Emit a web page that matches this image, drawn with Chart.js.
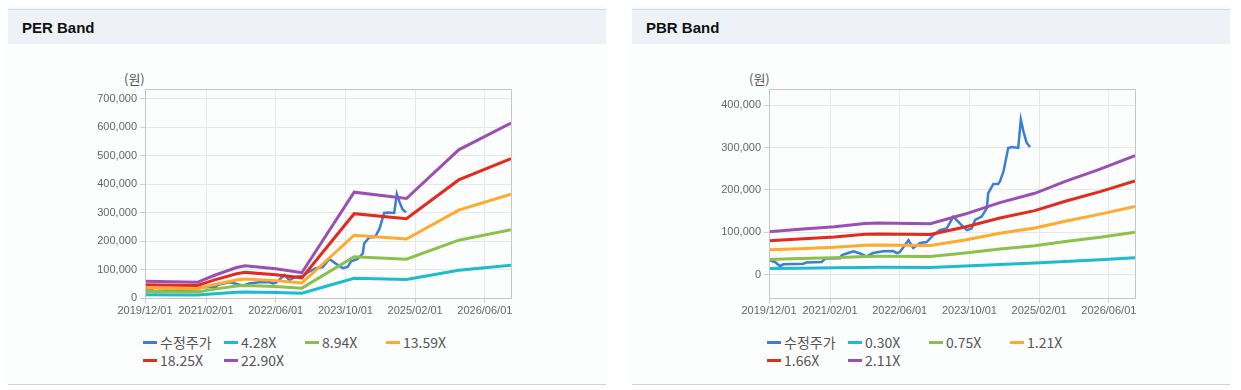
<!DOCTYPE html>
<html>
<head>
<meta charset="utf-8">
<script src="https://cdn.jsdelivr.net/npm/chart.js@4"></script>
<style>
  body { margin: 0; background: #fff; width: 1241px; height: 390px; position: relative; overflow: hidden;
         font-family: 'Liberation Sans', Arial, sans-serif; }
  .panel { position: absolute; top: 9px; width: 598px; height: 374px; background: #fcfdfd;
           border-top: 1px solid #d6d9dd; border-bottom: 1px solid #cfd2d6; box-shadow: 0 -2px 3px rgba(0,0,0,0.04); }
  .head { height: 34px; background: #eef2f7; }
  .head b { position: absolute; left: 14px; top: 9px; font: bold 15px 'Liberation Sans', Arial, sans-serif; color: #111; }
  canvas { position: absolute; }
  .unit { position: absolute; top: 69px; font: 13px 'Noto Sans CJK KR', sans-serif; color: #555; }
  .legend { position: absolute; top: 333px; display: grid; grid-template-columns: repeat(4, 81px); grid-auto-rows: 18px; }
  .li { display: flex; align-items: center; font: 14px 'Liberation Sans Narrow', 'Noto Sans CJK KR', sans-serif; color: #555; white-space: nowrap; }
  .li i { display: inline-block; width: 14px; height: 3px; margin-right: 3px; }
</style>
</head>
<body>
<div class="panel" style="left:8px"><div class="head"><b>PER Band</b></div></div>
<div class="panel" style="left:632px"><div class="head"><b>PBR Band</b></div></div>
<div class="unit" style="left:124px">(원)</div>
<div class="unit" style="left:749px">(원)</div>
<canvas id="perChart" width="470" height="270" style="left:60px; top:60px"></canvas>
<canvas id="pbrChart" width="460" height="270" style="left:700px; top:60px"></canvas>
<div class="legend" id="perLegend" style="left:143px"></div>
<div class="legend" id="pbrLegend" style="left:767px"></div>
<script>
const xTickLabels = ['2019/12/01', '2021/02/01', '2022/06/01', '2023/10/01', '2025/02/01', '2026/06/01'];
const xStart = '2019/12/01';
const xEnd = '2026/12/01';

// 수정주가 (shared by both charts)
const priceDates = ['2019/12/01', '2020/01/13', '2020/02/16', '2020/03/10', '2020/07/28', '2020/08/19', '2020/12/04',
  '2020/12/28', '2021/04/10', '2021/04/22', '2021/05/25', '2021/07/13', '2021/08/28', '2021/10/13', '2021/11/28',
  '2022/02/07', '2022/04/16', '2022/05/10', '2022/06/01', '2022/08/01', '2022/09/04', '2022/10/22', '2022/12/07',
  '2023/01/22', '2023/03/07', '2023/04/25', '2023/06/10', '2023/07/25', '2023/09/13', '2023/10/16', '2023/11/10',
  '2023/12/25', '2024/02/01', '2024/02/10', '2024/03/16', '2024/04/19', '2024/05/01', '2024/05/25', '2024/06/28',
  '2024/07/22', '2024/09/07', '2024/09/25', '2024/10/13', '2024/11/04', '2024/11/28'];
const priceValues = [34000, 30000, 20000, 24500, 26000, 29000, 30000, 38000, 39000, 46000, 50000, 55000, 50000, 43000,
  51000, 55000, 56000, 51000, 53000, 81000, 63000, 75000, 77000, 93000, 105000, 109000, 137000, 121000, 105000,
  109000, 129000, 137000, 157000, 192000, 214000, 214000, 220000, 243000, 299000, 301000, 299000, 366000, 338000,
  312000, 301000];

// PER band
const perDates = ['2019/12/01', '2020/12/01', '2021/04/01', '2021/09/01', '2021/11/01', '2022/06/01', '2022/12/01',
  '2023/12/01', '2024/12/01', '2025/12/01', '2026/12/01'];
const per428 = [11000, 10300, 15000, 20000, 21100, 19300, 16600, 69500, 65400, 97400, 114900];
const per894 = [23000, 21500, 31200, 41800, 44100, 40200, 34700, 145200, 136600, 203400, 240100];
const per1359 = [35000, 32600, 47500, 63500, 67100, 61100, 52800, 220800, 207700, 309200, 365000];
const per1825 = [47000, 43800, 63800, 85300, 90100, 82100, 70900, 296500, 278900, 415200, 490100];
const per2290 = [59000, 55000, 80000, 107000, 113000, 103000, 89000, 372000, 350000, 521000, 615000];
const perYTicks = [0, 100000, 200000, 300000, 400000, 500000, 600000, 700000];

// PBR band
const pbrDates = ['2019/12/01', '2020/07/01', '2021/03/01', '2021/10/01', '2022/01/01', '2023/01/01', '2023/09/01',
  '2024/05/01', '2025/01/01', '2025/08/01', '2026/04/01', '2026/12/01'];
const pbr030 = [14400, 15200, 16100, 17200, 17300, 17100, 20300, 24200, 27300, 31300, 35400, 40000];
const pbr075 = [35900, 38000, 40200, 43000, 43400, 42800, 50900, 60500, 68300, 78200, 88500, 99900];
const pbr121 = [59000, 61300, 64900, 69300, 69900, 69000, 82000, 97500, 110100, 126200, 142800, 161200];
const pbr166 = [80000, 84200, 89000, 95100, 96000, 94600, 112500, 133800, 151000, 173100, 195900, 221100];
const pbr211 = [101000, 107000, 113000, 121000, 122000, 120000, 143000, 170000, 192000, 220000, 249000, 281000];
const pbrYTicks = [0, 100000, 200000, 300000, 400000];

const colors = ['#3a7ed6', '#1dbbcf', '#8cc04c', '#ffaa2c', '#e42a1f', '#9c4fb3'];

function monthIdx(s) {
  const [y, m, d] = s.split('/').map(Number);
  return (y - 2019) * 12 + (m - 12) + (d - 1) / 30;
}

function series(label, dates, values, color, i) {
  return {
    label,
    data: dates.map((d, k) => ({ x: monthIdx(d), y: values[k] })),
    borderColor: color,
    backgroundColor: color,
    borderWidth: i === 0 ? 2.5 : 3,
    pointRadius: 0,
    tension: 0,
    order: i === 0 ? 10 : 6 - i
  };
}

const frame = {
  id: 'frame',
  afterDraw(chart) {
    const a = chart.chartArea, c = chart.ctx;
    c.save();
    c.strokeStyle = '#c6c6c6';
    c.lineWidth = 1;
    c.strokeRect(Math.round(a.left) + 0.5, Math.round(a.top) + 0.5, Math.round(a.right - a.left), Math.round(a.bottom - a.top));
    c.restore();
  }
};

function makeChart(id, datasets, yMin, yMax, yTicks, yWidth, rightPad) {
  const tickFont = { family: "'Liberation Sans', Arial, sans-serif", size: 11 };
  return new Chart(document.getElementById(id), {
    type: 'line',
    data: { datasets },
    options: {
      responsive: false,
      animation: false,
      devicePixelRatio: 1,
      layout: { padding: { top: 29, right: rightPad, bottom: 0, left: 0 } },
      plugins: { legend: { display: false }, tooltip: { enabled: false } },
      scales: {
        x: {
          type: 'linear',
          min: monthIdx(xStart),
          max: monthIdx(xEnd),
          afterBuildTicks: s => { s.ticks = xTickLabels.map(t => ({ value: monthIdx(t) })); },
          afterFit: s => { s.height = 32; },
          grid: { color: '#e8e8e8', tickLength: 5, tickColor: '#cfcfcf' },
          border: { display: false },
          ticks: {
            autoSkip: false, maxRotation: 0, padding: 1, color: '#666', font: tickFont,
            callback: v => xTickLabels.find(t => Math.abs(monthIdx(t) - v) < 0.01)
          }
        },
        y: {
          min: yMin,
          max: yMax,
          afterBuildTicks: s => { s.ticks = yTicks.map(v => ({ value: v })); },
          afterFit: s => { s.width = yWidth; },
          grid: { color: '#e8e8e8', tickLength: 5, tickColor: '#cfcfcf' },
          border: { display: false },
          ticks: { padding: 3, color: '#666', font: tickFont, callback: v => v.toLocaleString('en-US') }
        }
      }
    },
    plugins: [frame]
  });
}

function buildLegend(chart, elId) {
  const el = document.getElementById(elId);
  chart.data.datasets.forEach(ds => {
    const item = document.createElement('div');
    item.className = 'li';
    const mark = document.createElement('i');
    mark.style.background = ds.borderColor;
    const txt = document.createElement('span');
    txt.textContent = ds.label;
    item.appendChild(mark);
    item.appendChild(txt);
    el.appendChild(item);
  });
}

const perChart = makeChart('perChart', [
  series('수정주가', priceDates, priceValues, colors[0], 0),
  series('4.28X', perDates, per428, colors[1], 1),
  series('8.94X', perDates, per894, colors[2], 2),
  series('13.59X', perDates, per1359, colors[3], 3),
  series('18.25X', perDates, per1825, colors[4], 4),
  series('22.90X', perDates, per2290, colors[5], 5)
], 0, 735000, perYTicks, 85, 19);

const pbrChart = makeChart('pbrChart', [
  series('수정주가', priceDates, priceValues, colors[0], 0),
  series('0.30X', pbrDates, pbr030, colors[1], 1),
  series('0.75X', pbrDates, pbr075, colors[2], 2),
  series('1.21X', pbrDates, pbr121, colors[3], 3),
  series('1.66X', pbrDates, pbr166, colors[4], 4),
  series('2.11X', pbrDates, pbr211, colors[5], 5)
], -55000, 438000, pbrYTicks, 69, 25);

buildLegend(perChart, 'perLegend');
buildLegend(pbrChart, 'pbrLegend');
</script>
</body>
</html>
